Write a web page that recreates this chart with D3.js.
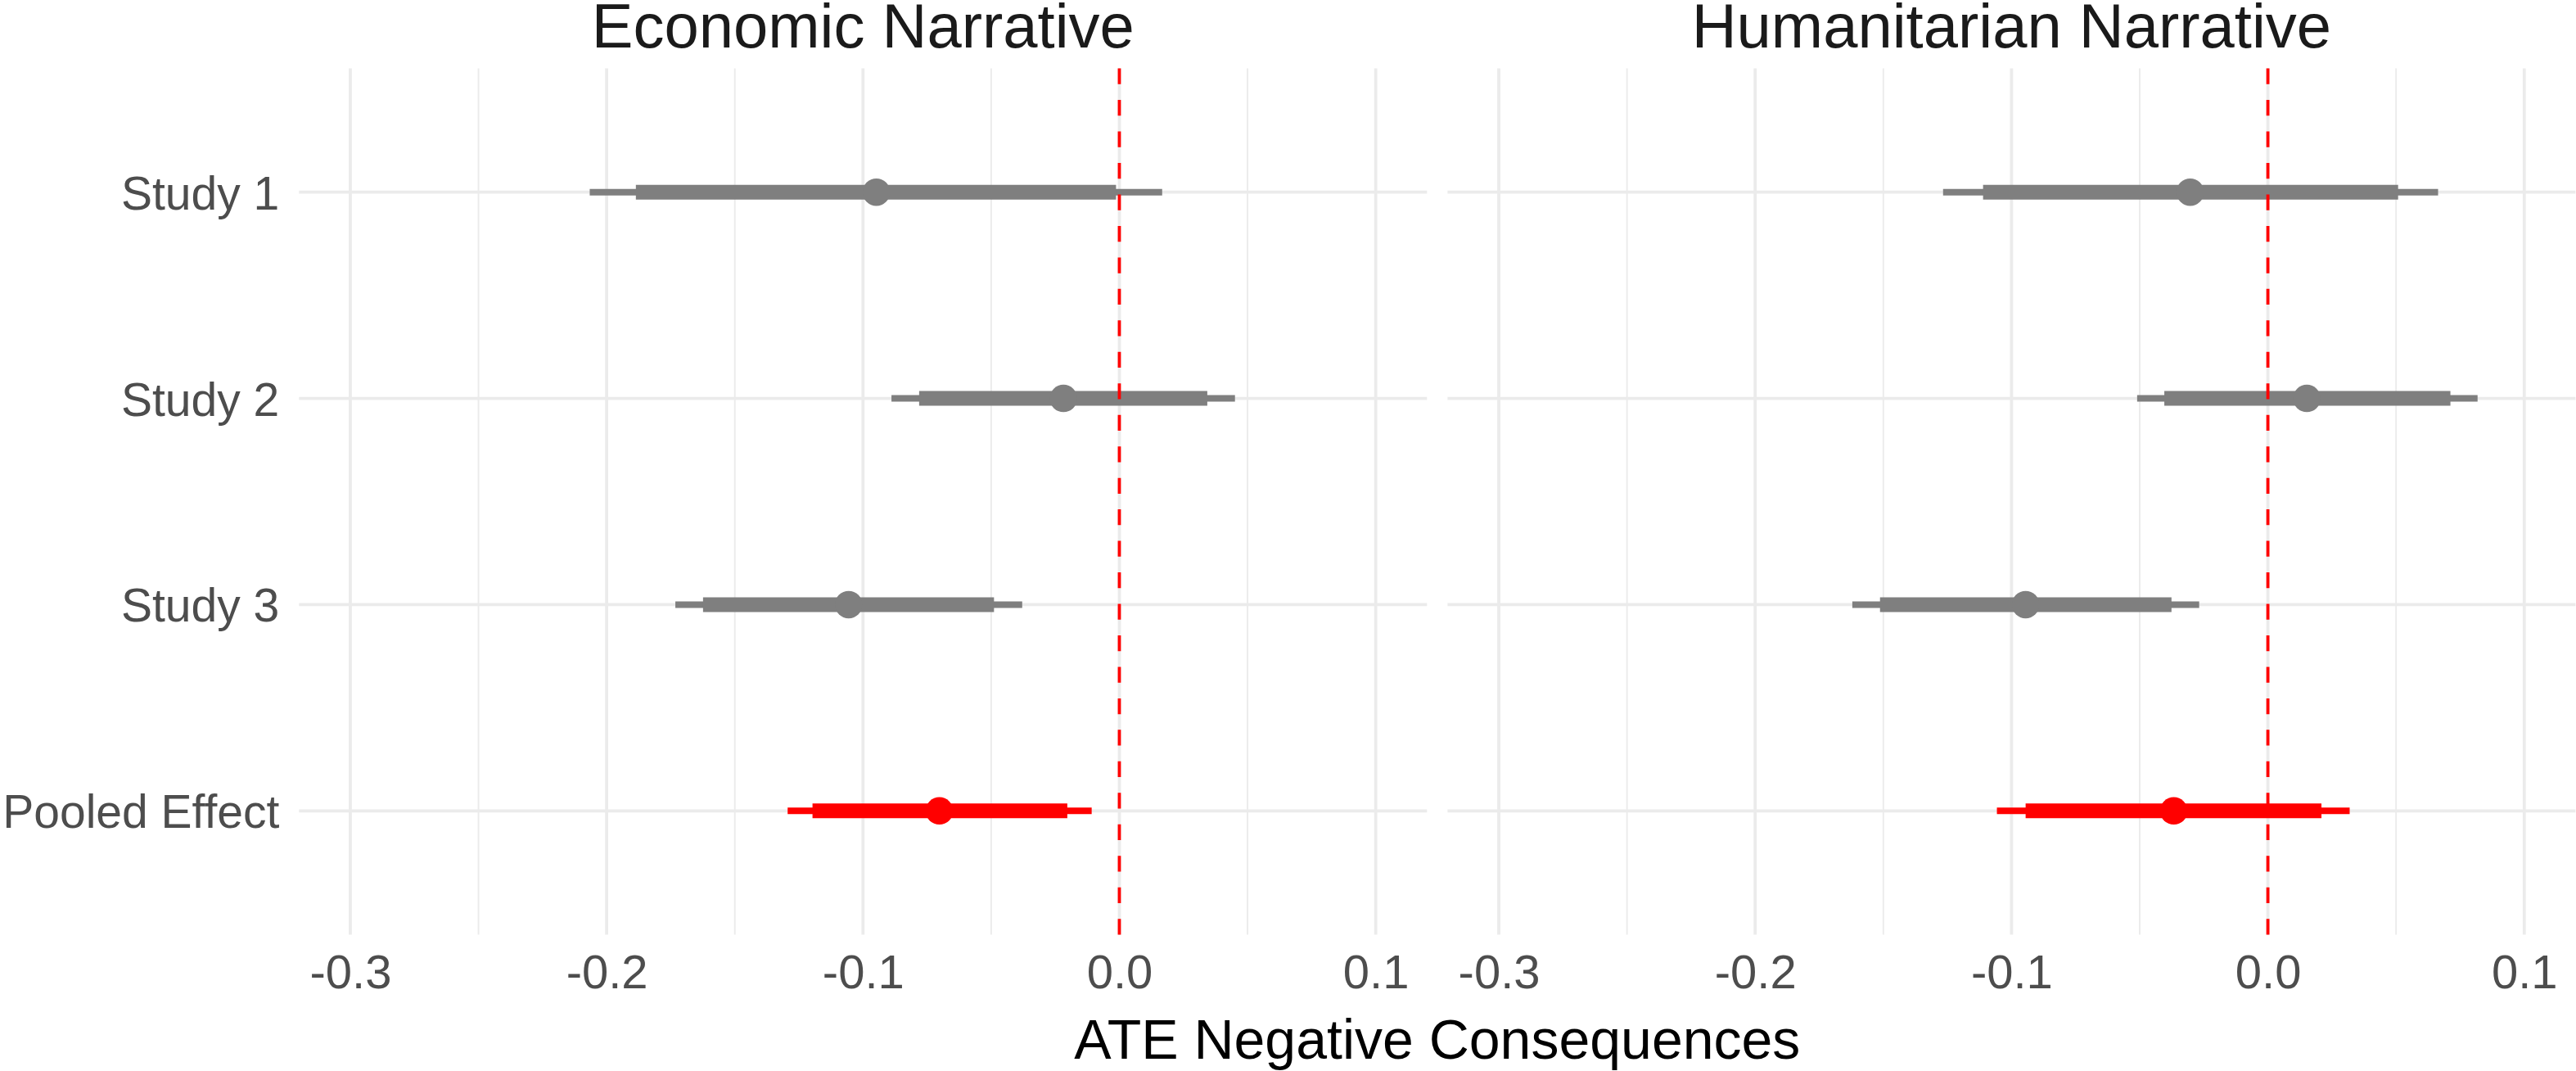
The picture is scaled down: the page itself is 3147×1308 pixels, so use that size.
<!DOCTYPE html>
<html>
<head>
<meta charset="utf-8">
<script src="https://cdn.jsdelivr.net/npm/d3@7"></script>
<style>
  html, body { margin: 0; padding: 0; background: #fff; }
  svg { display: block; }
  text { font-family: "Liberation Sans", Arial, Helvetica, sans-serif; }
</style>
</head>
<body>
<div id="chart"></div>
<script>
// ---------------- data ----------------
const categories = ["Study 1", "Study 2", "Study 3", "Pooled Effect"];
const panelTitles = ["Economic Narrative", "Humanitarian Narrative"];
const highlight = ["Pooled Effect"];

// Economic Narrative
const econEst  = [-0.0948, -0.0218, -0.1056, -0.0702];
const econLo95 = [-0.2066, -0.0889, -0.1732, -0.1294];
const econHi95 = [ 0.0167,  0.0451, -0.0379, -0.0108];
const econLo90 = [-0.1886, -0.0781, -0.1624, -0.1197];
const econHi90 = [-0.0013,  0.0343, -0.0489, -0.0203];

// Humanitarian Narrative
const humEst  = [-0.0303,  0.0152, -0.0945, -0.0367];
const humLo95 = [-0.1267, -0.0510, -0.1621, -0.1057];
const humHi95 = [ 0.0664,  0.0818, -0.0268,  0.0319];
const humLo90 = [-0.1111, -0.0404, -0.1513, -0.0945];
const humHi90 = [ 0.0508,  0.0712, -0.0376,  0.0209];

const xLimits = [-0.3, 0.1];
const xMajorTicks = [-0.3, -0.2, -0.1, 0.0, 0.1];
const xMinorTicks = [-0.25, -0.15, -0.05, 0.05];
const xTickLabels = ["-0.3", "-0.2", "-0.1", "0.0", "0.1"];
const refLine = 0;
const xTitle = "ATE Negative Consequences";

// ---------------- layout ----------------
const W = 3147, H = 1308;
const panelTop = 83.6, panelBottom = 1141.4;
const panelLefts = [365.3, 1768.4];
const panelWidth = 1378;

const panels = [
  { title: panelTitles[0], est: econEst, lo95: econLo95, hi95: econHi95, lo90: econLo90, hi90: econHi90 },
  { title: panelTitles[1], est: humEst,  lo95: humLo95,  hi95: humHi95,  lo90: humLo90,  hi90: humHi90 }
];

const svg = d3.select("#chart").append("svg")
  .attr("width", W).attr("height", H);

const span = xLimits[1] - xLimits[0];
const xDomain = [xLimits[0] - 0.05 * span, xLimits[1] + 0.05 * span];

const y = d3.scalePoint()
  .domain(categories)
  .range([panelTop, panelBottom])
  .padding(0.6);

const gridCol = "#EBEBEB";
const majorW = 3.8, minorW = 1.9;

panels.forEach((p, pi) => {
  const x0 = panelLefts[pi];
  const x = d3.scaleLinear().domain(xDomain).range([x0, x0 + panelWidth]);
  const g = svg.append("g");

  // minor vertical gridlines
  g.selectAll(".minor").data(xMinorTicks).enter().append("line")
    .attr("x1", d => x(d)).attr("x2", d => x(d))
    .attr("y1", panelTop).attr("y2", panelBottom)
    .attr("stroke", gridCol).attr("stroke-width", minorW);

  // major vertical gridlines
  g.selectAll(".major").data(xMajorTicks).enter().append("line")
    .attr("x1", d => x(d)).attr("x2", d => x(d))
    .attr("y1", panelTop).attr("y2", panelBottom)
    .attr("stroke", gridCol).attr("stroke-width", majorW);

  // horizontal gridlines
  g.selectAll(".hgrid").data(categories).enter().append("line")
    .attr("x1", x0).attr("x2", x0 + panelWidth)
    .attr("y1", d => y(d)).attr("y2", d => y(d))
    .attr("stroke", gridCol).attr("stroke-width", majorW);

  const rows = categories.map((c, i) => ({
    cat: c, est: p.est[i], lo95: p.lo95[i], hi95: p.hi95[i], lo90: p.lo90[i], hi90: p.hi90[i],
    col: highlight.includes(c) ? "#FF0000" : "#7F7F7F"
  }));

  // 95% intervals (thin)
  g.selectAll(".ci95").data(rows).enter().append("line")
    .attr("x1", d => x(d.lo95)).attr("x2", d => x(d.hi95))
    .attr("y1", d => y(d.cat)).attr("y2", d => y(d.cat))
    .attr("stroke", d => d.col).attr("stroke-width", 8).attr("stroke-linecap", "butt");

  // 90% intervals (thick)
  g.selectAll(".ci90").data(rows).enter().append("line")
    .attr("x1", d => x(d.lo90)).attr("x2", d => x(d.hi90))
    .attr("y1", d => y(d.cat)).attr("y2", d => y(d.cat))
    .attr("stroke", d => d.col).attr("stroke-width", 18).attr("stroke-linecap", "butt");

  // points
  g.selectAll(".pt").data(rows).enter().append("circle")
    .attr("cx", d => x(d.est)).attr("cy", d => y(d.cat))
    .attr("r", 16.8).attr("fill", d => d.col);

  // reference dashed line
  const dash = (panelBottom - panelTop) / 55;
  g.append("line")
    .attr("x1", x(refLine)).attr("x2", x(refLine))
    .attr("y1", panelTop).attr("y2", panelBottom)
    .attr("stroke", "#FF0000").attr("stroke-width", 3.8)
    .attr("stroke-dasharray", `${dash},${dash}`);

  // x axis
  const ax = d3.axisBottom(x).tickValues(xMajorTicks).tickSize(0)
    .tickFormat((d, i) => xTickLabels[i]);
  const axG = svg.append("g").attr("transform", `translate(0,${panelBottom})`).call(ax);
  axG.select(".domain").remove();
  axG.selectAll("text")
    .attr("y", 1207 - panelBottom).attr("dy", 0)
    .attr("fill", "#4D4D4D").style("font-size", "58px")
    .style("font-family", '"Liberation Sans", Arial, Helvetica, sans-serif');

  // panel title (strip)
  svg.append("text")
    .attr("x", x0 + panelWidth / 2).attr("y", 58)
    .attr("text-anchor", "middle")
    .attr("fill", "#1A1A1A").style("font-size", "76px")
    .text(p.title);

  // y axis on first panel only
  if (pi === 0) {
    const ay = d3.axisLeft(y).tickSize(0);
    const ayG = svg.append("g").attr("transform", `translate(${x0},0)`).call(ay);
    ayG.select(".domain").remove();
    ayG.selectAll("text")
      .attr("x", -24).attr("dy", "0.36em")
      .attr("fill", "#4D4D4D").style("font-size", "57px")
      .style("font-family", '"Liberation Sans", Arial, Helvetica, sans-serif');
  }
});

// x axis title
svg.append("text")
  .attr("x", (panelLefts[0] + panelLefts[1] + panelWidth) / 2)
  .attr("y", 1293)
  .attr("text-anchor", "middle")
  .attr("fill", "#000000").style("font-size", "68px")
  .text(xTitle);
</script>
</body>
</html>
